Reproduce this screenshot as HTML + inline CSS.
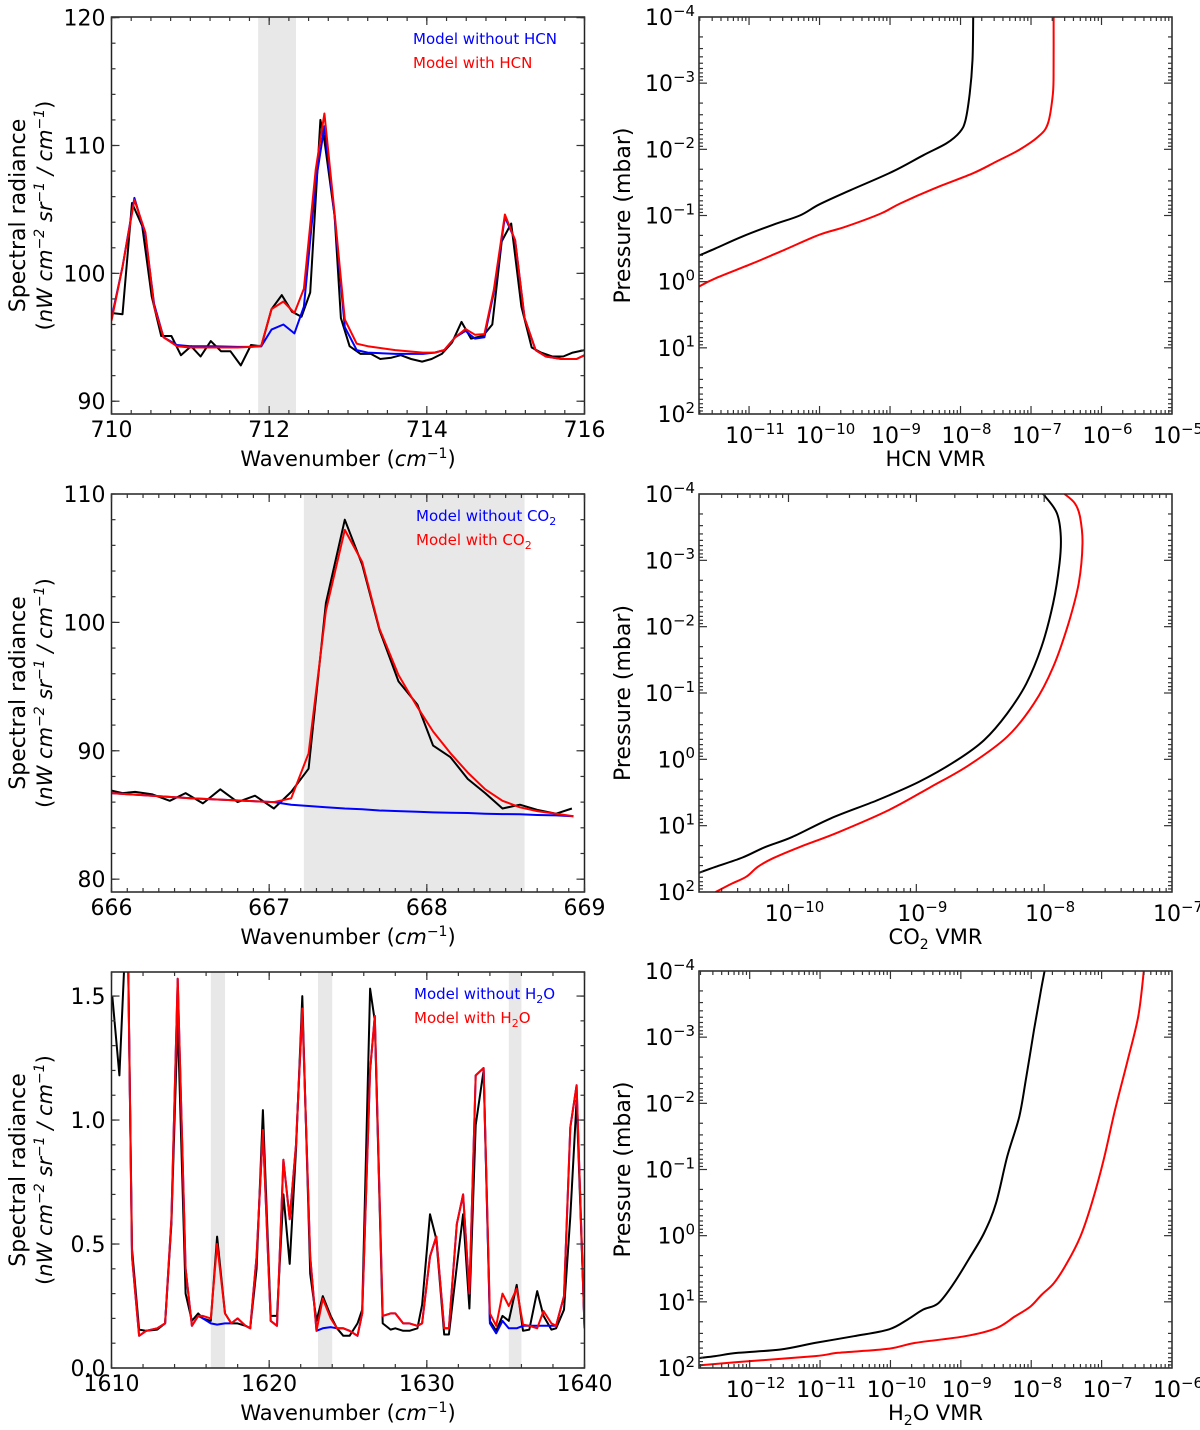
<!DOCTYPE html>
<html><head><meta charset="utf-8">
<style>
html,body{margin:0;padding:0;background:#fff;}
svg{display:block;font-family:"DejaVu Sans","Liberation Sans",sans-serif;}
</style></head>
<body>
<svg id="fig" width="1200" height="1430" viewBox="0 0 1200 1430" xmlns="http://www.w3.org/2000/svg"></svg>
<script>
// ---------- HCN spectrum (top-left) ----------
const hcnObsX=[710.0,710.14,710.26,710.39,710.51,710.63,710.76,710.88,711.01,711.13,711.26,711.39,711.51,711.64,711.77,711.9,712.03,712.16,712.29,712.41,712.52,712.65,712.7,712.83,712.91,713.02,713.16,713.29,713.41,713.55,713.67,713.8,713.94,714.06,714.19,714.32,714.44,714.56,714.71,714.83,714.95,715.07,715.2,715.33,715.45,715.59,715.73,715.85,716.0];
const hcnObsY=[96.9,96.8,105.5,103.7,98.2,95.1,95.1,93.6,94.3,93.5,94.7,93.9,93.9,92.8,94.4,94.3,97.2,98.3,97.0,96.6,98.5,112.0,110.4,104.5,96.5,94.3,93.7,93.7,93.3,93.4,93.6,93.3,93.1,93.3,93.7,94.6,96.2,94.9,95.1,96.0,102.5,103.9,97.4,94.2,93.8,93.5,93.5,93.8,94.0];
const hcnModX=[710.0,710.14,710.29,710.43,710.54,710.66,710.83,711.0,711.3,711.6,711.76,711.9,712.03,712.18,712.32,712.44,712.59,712.7,712.83,712.96,713.11,713.25,713.6,713.95,714.1,714.22,714.36,714.49,714.61,714.73,714.85,714.99,715.12,715.24,715.38,715.51,715.71,715.9,716.0];
const hcnWithY=[96.3,100.5,105.75,103.2,97.4,95.0,94.3,94.2,94.2,94.2,94.25,94.35,97.2,97.8,96.9,98.8,108.1,112.5,104.7,96.4,94.5,94.3,94.0,93.8,93.8,94.0,95.0,95.65,95.2,95.25,98.7,104.6,102.6,96.5,94.0,93.5,93.3,93.3,93.6];
const hcnWithoutY=[96.5,100.5,105.9,103.0,97.6,95.0,94.4,94.3,94.3,94.25,94.25,94.3,95.6,96.0,95.3,97.4,107.1,111.5,104.5,95.8,94.0,93.8,93.7,93.7,93.8,94.0,95.0,95.5,94.9,95.0,98.5,104.4,102.6,96.5,94.0,93.5,93.3,93.3,93.6];
const hcnShade=[711.86,712.34];
const hcnXTicks=[710,712,714,716];
const hcnYTicks=[90,100,110,120];

// ---------- CO2 spectrum (middle-left) ----------
const co2ObsX=[666.0,666.07,666.15,666.26,666.37,666.47,666.58,666.69,666.8,666.91,667.03,667.14,667.25,667.36,667.48,667.59,667.7,667.82,667.94,668.04,668.15,668.26,668.37,668.48,668.59,668.7,668.82,668.92];
const co2ObsY=[86.9,86.7,86.8,86.6,86.1,86.7,85.9,87.0,86.0,86.5,85.5,86.8,88.6,101.5,108.0,104.5,99.4,95.4,93.6,90.4,89.5,87.8,86.7,85.5,85.8,85.4,85.1,85.5];
const co2ModX=[666.0,666.5,667.03,667.14,667.25,667.36,667.48,667.59,667.7,667.82,667.94,668.04,668.15,668.26,668.37,668.48,668.59,668.7,668.82,668.93];
const co2WithY=[86.7,86.3,86.0,86.3,89.8,100.9,107.2,104.7,99.5,95.9,93.4,91.5,89.8,88.3,87.0,86.1,85.6,85.3,85.1,84.9];
const co2WithoutY=[86.7,86.3,86.0,85.8,85.7,85.6,85.5,85.45,85.35,85.3,85.25,85.2,85.18,85.15,85.1,85.07,85.05,85.0,84.97,84.9];
const co2Shade=[667.22,668.62];
const co2XTicks=[666,667,668,669];
const co2YTicks=[80,90,100,110];

// ---------- H2O spectrum (bottom-left) ----------
const h2oX=[1610.05,1610.5,1611.0,1611.3,1611.75,1612.2,1612.9,1613.4,1613.8,1614.2,1614.7,1615.1,1615.5,1615.8,1616.3,1616.7,1617.2,1617.6,1618.0,1618.5,1618.8,1619.2,1619.6,1620.1,1620.5,1620.9,1621.3,1621.7,1622.1,1622.6,1623.0,1623.4,1623.9,1624.3,1624.7,1625.1,1625.6,1625.9,1626.4,1626.7,1627.2,1627.7,1628.0,1628.5,1628.9,1629.4,1629.7,1630.2,1630.6,1631.1,1631.4,1631.9,1632.3,1632.7,1633.1,1633.6,1634.0,1634.4,1634.8,1635.2,1635.7,1636.1,1636.5,1637.0,1637.4,1637.9,1638.2,1638.7,1639.1,1639.5,1640.0];
const h2oObsY=[1.5,1.18,1.9,0.48,0.155,0.15,0.155,0.18,0.58,1.41,0.3,0.19,0.22,0.2,0.19,0.53,0.22,0.18,0.18,0.17,0.16,0.4,1.04,0.21,0.21,0.7,0.42,0.88,1.5,0.38,0.19,0.29,0.21,0.16,0.13,0.13,0.18,0.235,1.53,1.4,0.18,0.155,0.16,0.15,0.15,0.16,0.255,0.62,0.52,0.135,0.135,0.41,0.62,0.24,0.98,1.2,0.19,0.15,0.21,0.19,0.335,0.15,0.155,0.31,0.21,0.155,0.16,0.235,0.61,1.08,0.17];
const h2oWithY=[1.9,1.9,1.9,0.45,0.13,0.15,0.16,0.18,0.6,1.57,0.4,0.17,0.21,0.21,0.2,0.5,0.22,0.18,0.2,0.17,0.16,0.45,0.96,0.19,0.17,0.84,0.6,0.9,1.45,0.45,0.15,0.28,0.2,0.16,0.16,0.15,0.13,0.22,1.2,1.42,0.21,0.22,0.22,0.18,0.18,0.17,0.18,0.45,0.53,0.16,0.16,0.58,0.7,0.3,1.18,1.21,0.22,0.17,0.3,0.25,0.32,0.175,0.17,0.16,0.23,0.18,0.17,0.29,0.97,1.14,0.16];
const h2oWithoutY=[1.9,1.9,1.9,0.45,0.13,0.15,0.16,0.18,0.6,1.57,0.4,0.17,0.21,0.2,0.18,0.175,0.18,0.18,0.2,0.17,0.16,0.45,0.96,0.19,0.17,0.84,0.6,0.9,1.45,0.45,0.15,0.16,0.165,0.16,0.16,0.15,0.13,0.22,1.2,1.42,0.21,0.22,0.22,0.18,0.18,0.17,0.18,0.45,0.53,0.16,0.16,0.58,0.7,0.3,1.18,1.21,0.18,0.14,0.19,0.16,0.16,0.17,0.17,0.17,0.17,0.17,0.17,0.29,0.97,1.14,0.16];
const h2oShades=[[1616.3,1617.2],[1623.1,1624.0],[1635.2,1636.0]];
const h2oXTicks=[1610,1620,1630,1640];
const h2oYTicks=[0.0,0.5,1.0,1.5];

// ---------- HCN profiles (top-right), log10 VMR vs log10 P(mbar) ----------
const hcnProfObsLogVmr=[-11.72,-11.48,-11.1,-10.66,-10.28,-10.0,-9.57,-8.97,-8.53,-8.2,-8.01,-7.93,-7.87,-7.83,-7.82];
const hcnProfObsLogP=[-0.39,-0.5,-0.68,-0.86,-1.0,-1.17,-1.38,-1.66,-1.91,-2.09,-2.26,-2.44,-2.84,-3.35,-4.0];
const hcnProfFitLogVmr=[-11.72,-11.48,-10.94,-10.5,-10.0,-9.63,-9.13,-8.86,-8.37,-7.82,-7.5,-7.17,-6.9,-6.76,-6.69,-6.68,-6.68];
const hcnProfFitLogP=[0.08,-0.05,-0.28,-0.48,-0.71,-0.83,-1.03,-1.18,-1.41,-1.64,-1.81,-1.99,-2.19,-2.39,-2.84,-3.25,-4.0];

// ---------- CO2 profiles (middle-right) ----------
const co2ProfObsLogVmr=[-10.7,-10.57,-10.36,-10.18,-9.97,-9.67,-9.31,-8.98,-8.68,-8.47,-8.29,-8.14,-8.02,-7.93,-7.88,-7.87,-7.9,-7.99,-8.01];
const co2ProfObsLogP=[1.71,1.62,1.48,1.32,1.17,0.89,0.62,0.34,0.01,-0.29,-0.69,-1.14,-1.7,-2.35,-2.95,-3.36,-3.71,-3.96,-4.0];
const co2ProfFitLogVmr=[-10.57,-10.45,-10.33,-10.24,-10.12,-9.91,-9.61,-9.22,-8.89,-8.59,-8.29,-8.08,-7.93,-7.81,-7.73,-7.7,-7.72,-7.76,-7.84];
const co2ProfFitLogP=[2.0,1.88,1.77,1.62,1.49,1.32,1.1,0.77,0.42,0.09,-0.34,-0.84,-1.39,-2.05,-2.65,-3.26,-3.66,-3.86,-4.0];

// ---------- H2O profiles (bottom-right) ----------
const h2oProfObsLogVmr=[-12.72,-12.49,-12.16,-11.56,-11.07,-10.52,-10.03,-9.76,-9.54,-9.32,-9.1,-8.89,-8.67,-8.5,-8.34,-8.17,-8.07,-7.96,-7.87,-7.81];
const h2oProfObsLogP=[1.85,1.82,1.77,1.72,1.62,1.52,1.42,1.27,1.12,1.02,0.72,0.36,-0.04,-0.49,-1.2,-1.8,-2.4,-3.11,-3.66,-4.0];
const h2oProfFitLogVmr=[-12.72,-12.16,-11.07,-10.74,-10.03,-9.65,-8.94,-8.5,-8.23,-8.01,-7.85,-7.68,-7.49,-7.3,-7.14,-6.97,-6.81,-6.64,-6.48,-6.4];
const h2oProfFitLogP=[1.96,1.91,1.82,1.77,1.71,1.62,1.52,1.4,1.22,1.07,0.89,0.72,0.41,0.01,-0.49,-1.15,-1.9,-2.61,-3.31,-4.0];

const NS="http://www.w3.org/2000/svg";
const svg=document.getElementById('fig');
function mk(tag,attrs,parent){const e=document.createElementNS(NS,tag);for(const k in attrs)e.setAttribute(k,attrs[k]);(parent||svg).appendChild(e);return e;}
let clipId=0;

function frame(g,L,R,T,B){
  const r=mk('rect',{x:L,y:T,width:R-L,height:B-T,fill:'none',stroke:'#222','stroke-width':1.5},g);
  
  
}
function tick(g,x1,y1,x2,y2){mk('line',{x1:x1,y1:y1,x2:x2,y2:y2,stroke:'#333','stroke-width':1.2},g);}
function addXTicks(g,L,R,T,B,xs,len){xs.forEach(x=>{tick(g,x,B,x,B-len);tick(g,x,T,x,T+len);});}
function addYTicks(g,L,R,T,B,ys,len){ys.forEach(y=>{tick(g,L,y,L+len,y);tick(g,R,y,R-len,y);});}
function polyline(g,xs,ys,sx,sy,color,name,cp){
  const pts=xs.map((x,i)=>sx(x).toFixed(1)+','+sy(ys[i]).toFixed(1)).join(' ');
  const p=mk('polyline',{points:pts,fill:'none',stroke:color,'stroke-width':2,'stroke-linejoin':'round','clip-path':'url(#'+cp+')'},g);
  
  
}
function smoothPath(g,xs,ys,sx,sy,color,name,cp){
  const P=xs.map((x,i)=>[sx(x),sy(ys[i])]);
  let d='M'+P[0][0].toFixed(1)+','+P[0][1].toFixed(1);
  for(let i=0;i<P.length-1;i++){
    const p0=P[Math.max(0,i-1)],p1=P[i],p2=P[i+1],p3=P[Math.min(P.length-1,i+2)];
    const c1=[p1[0]+(p2[0]-p0[0])/6,p1[1]+(p2[1]-p0[1])/6];
    const c2=[p2[0]-(p3[0]-p1[0])/6,p2[1]-(p3[1]-p1[1])/6];
    d+=' C'+c1.map(v=>v.toFixed(1)).join(',')+' '+c2.map(v=>v.toFixed(1)).join(',')+' '+p2.map(v=>v.toFixed(1)).join(',');
  }
  const p=mk('path',{d:d,fill:'none',stroke:color,'stroke-width':2,'clip-path':'url(#'+cp+')'},g);
  
  
}
function clip(L,R,T,B){const id='c'+(clipId++);const cpE=mk('clipPath',{id:id});mk('rect',{x:L,y:T,width:R-L,height:B-T},cpE);return id;}
function supLabel(g,x,y,base,exp,anchor,size){
  const t=mk('text',{x:x,y:y,'font-size':size,'text-anchor':anchor,fill:'#000'},g);
  t.appendChild(document.createTextNode(base));
  const s=mk('tspan',{dy:-size*0.42,'font-size':size*0.68},t);s.textContent=exp;
  return t;
}

function linearPanel(c){
  const g=mk('g',{});
  
  
  const sx=v=>c.L+(v-c.xmin)/(c.xmax-c.xmin)*(c.R-c.L);
  const sy=v=>c.B-(v-c.ymin)/(c.ymax-c.ymin)*(c.B-c.T);
  const cp=clip(c.L,c.R,c.T,c.B);
  c.shades.forEach(s=>{const r=mk('rect',{x:sx(s[0]),y:c.T,width:sx(s[1])-sx(s[0]),height:c.B-c.T,fill:'#e8e8e8'},g);
    });
  c.series.forEach(s=>polyline(g,s.x,s.y,sx,sy,s.color,s.name,cp));
  frame(g,c.L,c.R,c.T,c.B);
  const minX=[];for(let v=c.xmin;v<=c.xmax+1e-9;v+=c.xMinor)minX.push(sx(v));
  addXTicks(g,c.L,c.R,c.T,c.B,minX,4);
  addXTicks(g,c.L,c.R,c.T,c.B,c.xTicks.map(sx),8);
  const minY=[];for(let v=Math.ceil(c.ymin/c.yMinor)*c.yMinor;v<=c.ymax+1e-9;v+=c.yMinor)minY.push(sy(v));
  addYTicks(g,c.L,c.R,c.T,c.B,minY,4);
  addYTicks(g,c.L,c.R,c.T,c.B,c.yTicks.map(sy),8);
  c.xTicks.forEach(v=>{const t=mk('text',{x:sx(v),y:c.B+23,'font-size':22,'text-anchor':'middle'},g);t.textContent=c.fmtX(v);
    });
  c.yTicks.forEach(v=>{const t=mk('text',{x:c.L-6,y:sy(v)+8,'font-size':22,'text-anchor':'end'},g);t.textContent=c.fmtY(v);
    });
  // x title
  const xt=mk('text',{x:(c.L+c.R)/2,y:c.B+52,'font-size':21,'text-anchor':'middle'},g);
  
  xt.appendChild(document.createTextNode('Wavenumber ('));
  let it=mk('tspan',{'font-style':'italic'},xt);it.textContent='cm';
  let su=mk('tspan',{dy:-8,'font-size':14},xt);su.textContent='−1';
  let cl=mk('tspan',{dy:8},xt);cl.textContent=')';
  // y title
  const cy=(c.T+c.B)/2;
  const y1=mk('text',{x:0,y:0,'font-size':22,'text-anchor':'middle',transform:`translate(25,${cy}) rotate(-90)`},g);
  y1.textContent='Spectral radiance';
  
  const y2=mk('text',{x:0,y:0,'font-size':21,'text-anchor':'middle',transform:`translate(52,${cy}) rotate(-90)`},g);
  
  const segs=[['(',0,false,21],['nW cm',0,true,21],['−2',-8,true,14],[' sr',8,true,21],['−1',-8,true,14],[' / cm',8,true,21],['−1',-8,true,14],[')',8,false,21]];
  segs.forEach(s=>{const a=mk('tspan',{dy:s[1],'font-size':s[3]},y2);if(s[2])a.setAttribute('font-style','italic');a.textContent=s[0];});
  // legend
  c.legend.forEach((l,i)=>{const t=mk('text',{x:c.legX,y:c.T+27+i*24,'font-size':15,fill:l.color},g);
    
    t.appendChild(document.createTextNode(l.text));
    if(l.sub){const s=mk('tspan',{dy:4,'font-size':11},t);s.textContent=l.sub;const s2=mk('tspan',{dy:-4,'font-size':15},t);s2.textContent=l.after||'\u200b';}
  });
}

function logPanel(c){
  const g=mk('g',{});
  
  
  const sx=v=>c.L+(v-c.xmin)/(c.xmax-c.xmin)*(c.R-c.L);
  const sy=v=>c.T+(v-(-4))/6*(c.B-c.T); // log P from -4 (top) to 2 (bottom)
  const cp=clip(c.L,c.R,c.T,c.B);
  c.series.forEach(s=>smoothPath(g,s.x,s.y,sx,sy,s.color,s.name,cp));
  frame(g,c.L,c.R,c.T,c.B);
  const minX=[],majX=[];
  for(let d=Math.floor(c.xmin);d<c.xmax;d++){for(let m=2;m<=9;m++){const v=d+Math.log10(m);if(v>c.xmin&&v<c.xmax)minX.push(sx(v));}}
  for(let d=Math.ceil(c.xmin);d<=c.xmax;d++)majX.push(d);
  addXTicks(g,c.L,c.R,c.T,c.B,minX,4);
  addXTicks(g,c.L,c.R,c.T,c.B,majX.map(sx),8);
  const minY=[];for(let d=-4;d<2;d++)for(let m=2;m<=9;m++)minY.push(sy(d+Math.log10(m)));
  addYTicks(g,c.L,c.R,c.T,c.B,minY,4);
  addYTicks(g,c.L,c.R,c.T,c.B,[-4,-3,-2,-1,0,1,2].map(sy),8);
  majX.forEach(d=>{const t=supLabel(g,sx(d)+6,c.B+29,'10',d<0?'−'+(-d):''+d,'middle',22);
    });
  [-4,-3,-2,-1,0,1,2].forEach(d=>{const t=supLabel(g,c.L-4,sy(d)+8,'10',d<0?'−'+(-d):''+d,'end',22);
    });
  const xt=mk('text',{x:(c.L+c.R)/2,y:c.B+52,'font-size':21,'text-anchor':'middle'},g);
  
  xt.appendChild(document.createTextNode(c.xpre));
  if(c.xsub){const s=mk('tspan',{dy:5,'font-size':14},xt);s.textContent=c.xsub;const s2=mk('tspan',{dy:-5,'font-size':21},xt);s2.textContent=c.xpost;}
  const cy=(c.T+c.B)/2;
  const yt=mk('text',{x:0,y:0,'font-size':22,'text-anchor':'middle',transform:`translate(630,${cy}) rotate(-90)`},g);
  yt.textContent='Pressure (mbar)';
  
}

const LL=111.5, LR=584.5, RL=699, RR=1172;
linearPanel({name:'hcn-spectrum-panel',L:LL,R:LR,T:17,B:414,xmin:710,xmax:716,ymin:89,ymax:120.05,xMinor:0.25,yMinor:2,
  xTicks:hcnXTicks,yTicks:hcnYTicks,fmtX:v=>String(v),fmtY:v=>String(v),shades:[hcnShade],legX:413,
  series:[{x:hcnObsX,y:hcnObsY,color:'#000',name:'hcn-observed-line'},{x:hcnModX,y:hcnWithoutY,color:'#0000ff',name:'hcn-model-without-line'},{x:hcnModX,y:hcnWithY,color:'#ff0000',name:'hcn-model-with-line'}],
  legend:[{text:'Model without HCN',color:'#0000ff'},{text:'Model with HCN',color:'#ff0000'}]});
linearPanel({name:'co2-spectrum-panel',L:LL,R:LR,T:494,B:892,xmin:666,xmax:669,ymin:79,ymax:110,xMinor:0.1,yMinor:2,
  xTicks:co2XTicks,yTicks:co2YTicks,fmtX:v=>String(v),fmtY:v=>String(v),shades:[co2Shade],legX:416,
  series:[{x:co2ObsX,y:co2ObsY,color:'#000',name:'co2-observed-line'},{x:co2ModX,y:co2WithoutY,color:'#0000ff',name:'co2-model-without-line'},{x:co2ModX,y:co2WithY,color:'#ff0000',name:'co2-model-with-line'}],
  legend:[{text:'Model without CO',sub:'2',color:'#0000ff'},{text:'Model with CO',sub:'2',color:'#ff0000'}]});
linearPanel({name:'h2o-spectrum-panel',L:LL,R:LR,T:972,B:1368,xmin:1610,xmax:1640,ymin:0,ymax:1.597,xMinor:2,yMinor:0.1,
  xTicks:h2oXTicks,yTicks:h2oYTicks,fmtX:v=>String(v),fmtY:v=>v.toFixed(1),shades:h2oShades,legX:414,
  series:[{x:h2oX,y:h2oObsY,color:'#000',name:'h2o-observed-line'},{x:h2oX,y:h2oWithoutY,color:'#0000ff',name:'h2o-model-without-line'},{x:h2oX,y:h2oWithY,color:'#ff0000',name:'h2o-model-with-line'}],
  legend:[{text:'Model without H',sub:'2',after:'O',color:'#0000ff'},{text:'Model with H',sub:'2',after:'O',color:'#ff0000'}]});

logPanel({name:'hcn-profile-panel',L:RL,R:RR,T:17,B:414,xmin:-11.71,xmax:-5,xpre:'HCN VMR',
  series:[{x:hcnProfObsLogVmr,y:hcnProfObsLogP,color:'#000',name:'hcn-profile-a'},{x:hcnProfFitLogVmr,y:hcnProfFitLogP,color:'#ff0000',name:'hcn-profile-b'}]});
logPanel({name:'co2-profile-panel',L:RL,R:RR,T:494,B:892,xmin:-10.7,xmax:-7,xpre:'CO',xsub:'2',xpost:' VMR',
  series:[{x:co2ProfObsLogVmr,y:co2ProfObsLogP,color:'#000',name:'co2-profile-a'},{x:co2ProfFitLogVmr,y:co2ProfFitLogP,color:'#ff0000',name:'co2-profile-b'}]});
logPanel({name:'h2o-profile-panel',L:RL,R:RR,T:971,B:1368,xmin:-12.72,xmax:-6,xpre:'H',xsub:'2',xpost:'O VMR',
  series:[{x:h2oProfObsLogVmr,y:h2oProfObsLogP,color:'#000',name:'h2o-profile-a'},{x:h2oProfFitLogVmr,y:h2oProfFitLogP,color:'#ff0000',name:'h2o-profile-b'}]});
</script>
</body></html>
